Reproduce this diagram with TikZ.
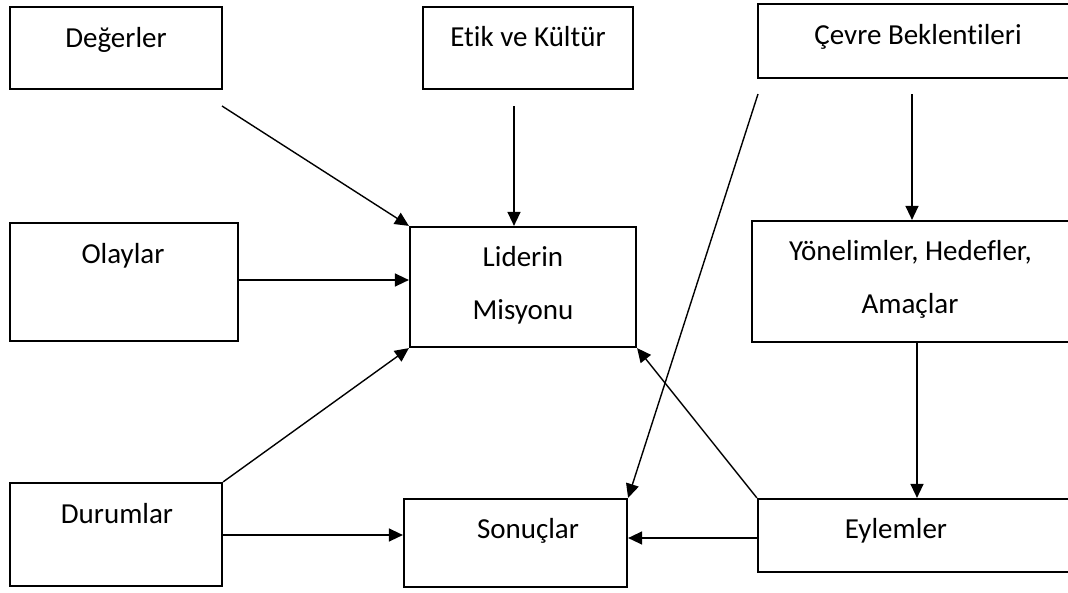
\documentclass[tikz,border=0pt]{standalone}
\usepackage{fontspec}
\setmainfont{Carlito}[Ligatures=NoCommon]
\usetikzlibrary{arrows.meta}
\begin{document}
\begin{tikzpicture}[x=1pt,y=-1pt,
  box/.style={draw=black,line width=2.2pt,rectangle,inner sep=0pt},
  lbl/.style={anchor=base,inner sep=0pt,font=\fontsize{29}{35}\selectfont},
  arr/.style={line width=1.4pt,-{Triangle[length=14pt,width=13pt]}}]
\useasboundingbox (0,0) rectangle (1068,592);
\clip (0,0) rectangle (1068,592);
% boxes
\node[box,minimum width=212pt,minimum height=82pt] (deg) at (116,48) {};
\node[box,minimum width=210pt,minimum height=82pt] (etik) at (528,48) {};
\node[box,minimum width=322pt,minimum height=74pt] (cevre) at (919,41) {};
\node[box,minimum width=228pt,minimum height=118pt] (olay) at (124,282) {};
\node[box,minimum width=226pt,minimum height=120pt] (lider) at (523,287) {};
\node[box,minimum width=328pt,minimum height=121pt] (yon) at (916,281.5) {};
\node[box,minimum width=212pt,minimum height=103pt] (durum) at (116,534.5) {};
\node[box,minimum width=223pt,minimum height=88pt] (sonuc) at (515.5,543) {};
\node[box,minimum width=322pt,minimum height=73pt] (eylem) at (919,535.5) {};
% labels
\node[lbl] (tdeg) at (116,47) {Değerler};
\node[lbl] (tetik) at (528,46) {Etik ve Kültür};
\node[lbl] (tcevre) at (918,44) {Çevre Beklentileri};
\node[lbl] (tolay) at (123,263) {Olaylar};
\node[lbl] (tlid1) at (523,266) {Liderin};
\node[lbl] (tlid2) at (523,319) {Misyonu};
\node[lbl] (tyon1) at (910.5,260) {Yönelimler, Hedefler,};
\node[lbl] (tyon2) at (910,313) {Amaçlar};
\node[lbl] (tdur) at (117,523) {Durumlar};
\node[lbl] (tson) at (528,538) {Sonuçlar};
\node[lbl] (tey) at (896,538) {Eylemler};
% free ends
\coordinate (ds) at (222,106);
\coordinate (es) at (514,106);
\coordinate (cs1) at (758,94);
\coordinate (cs2) at (912,94);
\coordinate (yx) at (917,0);
% connectors
\draw[arr] (ds) -- (lider.north west);
\draw[arr] (es) -- (es |- lider.north);
\draw[arr] (olay.east |- 0,280) -- (lider.west |- 0,280);
\draw[arr] (durum.north east) -- (lider.south west);
\draw[arr] (durum.east |- 0,535) -- (sonuc.west |- 0,535);
\draw[arr] (cs1) -- (sonuc.north east);
\draw[arr] (cs2) -- (cs2 |- yon.north);
\draw[arr] (yx |- yon.south) -- (yx |- eylem.north);
\draw[arr] (eylem.north west) -- (lider.south east);
\draw[arr] (eylem.west |- 0,538) -- (sonuc.east |- 0,538);
\end{tikzpicture}
\end{document}
